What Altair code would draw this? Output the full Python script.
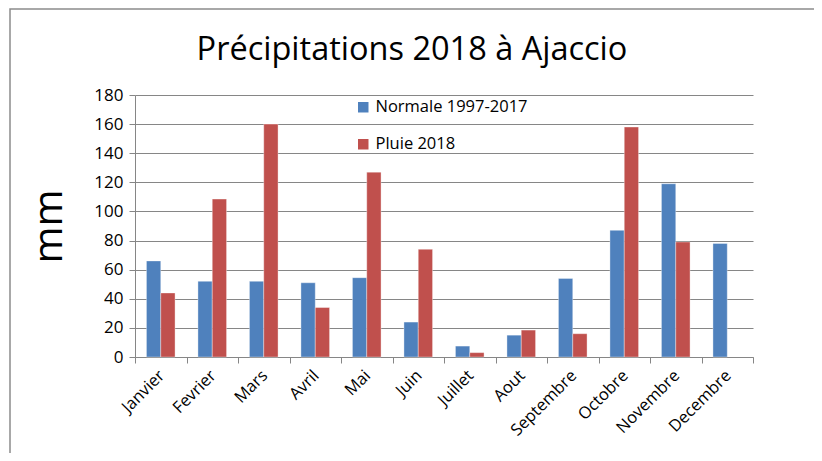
import altair as alt
import pandas as pd

months = ["Janvier", "Fevrier", "Mars", "Avril", "Mai", "Juin", "Juillet",
          "Aout", "Septembre", "Octobre", "Novembre", "Decembre"]
normale = [66, 52, 52, 51, 54.5, 24, 7.5, 15, 54, 87, 119, 78]
pluie = [44, 108.5, 160, 34, 127, 74, 3, 18.5, 16, 158, 79, None]
series_names = ["Normale 1997-2017", "Pluie 2018"]
colors = ["#4F81BD", "#C0504D"]
title_text = "Précipitations 2018 à Ajaccio"

rows = []
for m, n, p in zip(months, normale, pluie):
    rows.append({"mois": m, "serie": series_names[0], "mm": n})
    if p is not None:
        rows.append({"mois": m, "serie": series_names[1], "mm": p})
df = pd.DataFrame(rows)

FONT = "Open Sans"

bars = alt.Chart(df).mark_bar(stroke="white", strokeWidth=0.6, strokeOpacity=0.6).encode(
    x=alt.X("mois:N", sort=months, title=None,
            scale=alt.Scale(paddingInner=0, paddingOuter=0),
            axis=alt.Axis(labelAngle=-45, labelFontSize=16.5, labelFont=FONT,
                          labelColor="black", tickBand="extent", tickSize=6,
                          tickColor="#868686", domainColor="#868686",
                          labelPadding=4, labelOffset=-5)),
    xOffset=alt.XOffset("serie:N", sort=series_names,
                        scale=alt.Scale(paddingInner=0, paddingOuter=0.8)),
    y=alt.Y("mm:Q", title="mm",
            scale=alt.Scale(domain=[0, 180], nice=False),
            axis=alt.Axis(values=list(range(0, 181, 20)), labelFontSize=17,
                          labelFont=FONT, labelColor="black", tickSize=6,
                          tickColor="#868686", domainColor="#868686",
                          gridColor="#868686", grid=True, labelPadding=6,
                          titleFontSize=40, titleFont=FONT, titleFontWeight="normal",
                          titleColor="black", titlePadding=24)),
    color=alt.Color("serie:N", sort=series_names,
                    scale=alt.Scale(domain=series_names, range=colors),
                    legend=alt.Legend(title=None, orient="none", legendX=220, legendY=4,
                                      symbolType="square", symbolSize=110,
                                      symbolStrokeWidth=0, labelFontSize=16.5,
                                      labelFont=FONT, labelColor="black",
                                      rowPadding=20, labelOffset=4)),
)

frame = alt.Chart(pd.DataFrame({"f": [0]})).mark_rect(
    fill=None, stroke="#8c8c8c", strokeWidth=1.5, clip=False
).encode(
    x=alt.value(-125), x2=alt.value(681), y=alt.value(-86), y2=alt.value(380)
)

title = alt.Chart(pd.DataFrame({"t": [title_text]})).mark_text(
    fontSize=32.5, font=FONT, color="black", align="center", baseline="alphabetic"
).encode(
    text="t:N", x=alt.value(277), y=alt.value(-35)
)

chart = alt.layer(frame, title, bars).properties(
    width=618, height=262,
    autosize=alt.AutoSizeParams(type="none"),
    padding={"left": 127, "top": 87, "right": 61, "bottom": 96},
).configure_view(stroke=None).configure_axis(gridWidth=1)

chart.save("out.html", embed_options={"renderer": "svg", "actions": False})
